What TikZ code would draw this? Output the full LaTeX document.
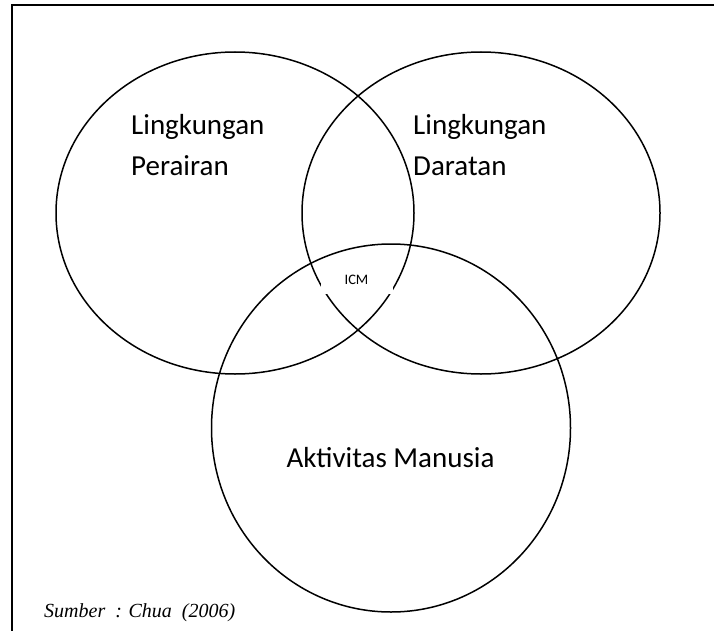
\documentclass[tikz,border=0pt]{standalone}
\usepackage{fontspec}
\setmainfont{Carlito}
\newfontfamily\srcfont{Liberation Serif}
\usepackage{tikz}

\begin{document}
\begin{tikzpicture}[x=1pt, y=-1pt,
  set/.style={line width=1.5pt},
  lbl/.style={font=\fontsize{29}{41}\selectfont, align=left, inner sep=0pt},
  core/.style={fill=white, font=\fontsize{14.5}{16}\selectfont, minimum width=72pt, minimum height=28pt, inner sep=0pt}]
\useasboundingbox (0,0) rectangle (714,631);
\draw[line width=2pt] (12,631) -- (12,5) -- (714,5);
% three sets
\draw[set] (235,213) ellipse [x radius=179, y radius=161];
\draw[set] (481,213) ellipse [x radius=179, y radius=161];
\draw[set] (391,428) ellipse [x radius=179.5, y radius=184];
\node[lbl, anchor=north west] (air) at (131,114) {Lingkungan\\Perairan};
\node[lbl, anchor=north west] (darat) at (413,114) {Lingkungan\\Daratan};
\node[lbl, anchor=base] (manusia) at (390.5,467) {Aktivitas Manusia};
\node[core] (icm) at (356.5,279.5) {ICM};
\node[anchor=base west, inner sep=0pt, font=\srcfont\itshape\fontsize{20}{22}\selectfont] (src) at (44,617) {Sumber\ \ : Chua\ \ (2006)};
\end{tikzpicture}
\end{document}
